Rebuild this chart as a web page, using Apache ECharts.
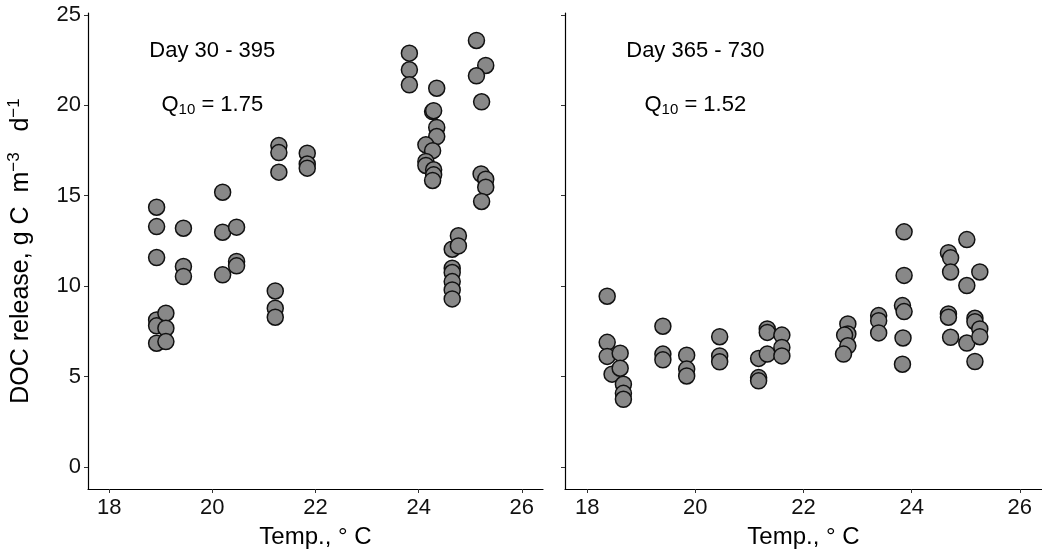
<!DOCTYPE html>
<html>
<head>
<meta charset="utf-8">
<title>DOC release vs temperature</title>
<script src="https://cdn.jsdelivr.net/npm/echarts@6/dist/echarts.min.js"></script>
<style>
  html, body { margin: 0; padding: 0; background: #fff; }
  #chart { width: 1042px; height: 556px; }
</style>
</head>
<body>
<div id="chart"></div>
<script>
// tick labels
var xTicks = [18, 20, 22, 24, 26];
var yTicks = [0, 5, 10, 15, 20, 25];

// Day 30 - 395  [temp, DOC release]
var early = [
  [18.92, 14.36], [18.92, 13.29], [18.92, 11.58], [18.92, 8.13], [18.92, 7.80], [18.92, 6.84],
  [19.10, 8.50], [19.10, 7.67], [19.10, 6.93],
  [19.44, 13.20], [19.44, 11.08], [19.44, 10.53],
  [20.20, 15.19], [20.20, 12.98], [20.20, 10.62],
  [20.47, 13.26], [20.47, 11.36], [20.47, 11.12],
  [21.22, 9.73], [21.22, 8.78], [21.22, 8.28],
  [21.29, 17.77], [21.29, 17.38], [21.29, 16.30],
  [21.84, 17.35], [21.84, 16.75], [21.84, 16.52],
  [23.82, 22.88], [23.82, 21.96], [23.82, 21.13],
  [24.35, 20.94], [24.27, 19.65], [24.29, 19.70], [24.35, 18.77], [24.35, 18.27],
  [24.14, 17.81], [24.27, 17.49], [24.14, 16.89], [24.14, 16.67],
  [24.29, 16.43], [24.29, 16.15], [24.27, 15.84],
  [24.65, 12.04], [24.77, 12.78], [24.77, 12.22],
  [24.65, 10.99], [24.65, 10.75], [24.65, 10.25], [24.65, 9.79], [24.65, 9.29],
  [25.12, 23.58], [25.30, 22.20], [25.12, 21.63], [25.22, 20.19],
  [25.21, 16.20], [25.30, 15.91], [25.30, 15.47], [25.22, 14.68]
];

// Day 365 - 730
var late = [
  [18.37, 9.44], [18.37, 6.89], [18.37, 6.11], [18.46, 5.13],
  [18.61, 6.29], [18.61, 5.46], [18.67, 4.57], [18.67, 4.07], [18.67, 3.74],
  [19.40, 7.78], [19.40, 6.24], [19.40, 5.92],
  [19.84, 6.18], [19.84, 5.41], [19.84, 5.03],
  [20.45, 7.20], [20.45, 6.14], [20.45, 5.81],
  [21.17, 6.00], [21.17, 4.94], [21.17, 4.76],
  [21.33, 7.63], [21.33, 7.44], [21.33, 6.24],
  [21.60, 7.29], [21.60, 6.61], [21.60, 6.14],
  [22.82, 7.91], [22.82, 7.35], [22.76, 7.29], [22.82, 6.70], [22.74, 6.24],
  [23.39, 8.37], [23.39, 8.09], [23.39, 7.41],
  [23.86, 13.00], [23.86, 10.59], [23.83, 8.92], [23.86, 8.59], [23.84, 7.13], [23.83, 5.68],
  [24.68, 11.85], [24.72, 11.56], [24.72, 10.78], [24.68, 8.46], [24.68, 8.28], [24.72, 7.17],
  [25.02, 12.57], [25.26, 10.78], [25.02, 10.03], [25.02, 6.85],
  [25.17, 8.22], [25.17, 8.03], [25.26, 7.63], [25.26, 7.20], [25.17, 5.83]
];

// panel annotations
var periods = ['Day 30 - 395', 'Day 365 - 730'];
var q10 = ['1.75', '1.52'];
var labelPos = [[20, 23], [20, 20]];

var font = 'Liberation Sans, Arial, sans-serif';
var chart = echarts.init(document.getElementById('chart'));

function xAxis(i) {
  return {
    type: 'value', gridIndex: i, min: 17.59, max: 26.41,
    name: 'Temp., \u00b0 C', nameLocation: 'middle', nameGap: 36,
    nameTextStyle: { fontSize: 24, color: '#000', fontFamily: font },
    axisLine: { onZero: false, lineStyle: { color: '#000', width: 1.2 } },
    axisTick: { length: 4, customValues: xTicks, lineStyle: { color: '#333' } },
    axisLabel: { customValues: xTicks, fontSize: 22, color: '#111', margin: 8, fontFamily: font },
    splitLine: { show: false }
  };
}

function yAxis(i) {
  var ax = {
    type: 'value', gridIndex: i, min: -1.22, max: 25.1,
    axisLine: { show: true, onZero: false, lineStyle: { color: '#000', width: 1.2 } },
    axisTick: { show: true, length: 4, customValues: yTicks, lineStyle: { color: '#333' } },
    axisLabel: { show: i === 0, customValues: yTicks, fontSize: 22, color: '#111', margin: 7, fontFamily: font },
    splitLine: { show: false }
  };
  if (i === 0) {
    ax.name = '{t|DOC release, g C  m}{sup|\u22123}{t|   d}{sup|\u22121}';
    ax.nameLocation = 'middle';
    ax.nameGap = 52;
    ax.nameTextStyle = {
      fontFamily: font, color: '#000',
      rich: {
        t: { fontSize: 25, lineHeight: 30, fontFamily: font, color: '#000' },
        sup: { fontSize: 17, lineHeight: 14, verticalAlign: 'top', fontFamily: font, color: '#000' }
      }
    };
  }
  return ax;
}

function pointSeries(data, i) {
  return {
    type: 'scatter', xAxisIndex: i, yAxisIndex: i, data: data,
    symbol: 'circle', symbolSize: 16,
    itemStyle: { color: '#888888', borderColor: '#111', borderWidth: 1.5, opacity: 1 },
    emphasis: { disabled: true }
  };
}

function textSeries(i) {
  return {
    type: 'scatter', xAxisIndex: i, yAxisIndex: i, silent: true, z: 5,
    symbolSize: 1, itemStyle: { color: '#fff', opacity: 0 },
    data: [
      { value: labelPos[0], label: { formatter: '{a|' + periods[i] + '}' } },
      { value: labelPos[1], label: { formatter: '{a|Q}{s|10}{a| = ' + q10[i] + '}' } }
    ],
    label: {
      show: true, position: 'top', distance: -13, color: '#000', opacity: 1,
      textBorderWidth: 0, fontFamily: font,
      rich: {
        a: { fontSize: 22, lineHeight: 26, fontFamily: font, color: '#000' },
        s: { fontSize: 15, lineHeight: 12, verticalAlign: 'bottom', fontFamily: font, color: '#000' }
      }
    }
  };
}

chart.setOption({
  backgroundColor: '#fff',
  animation: false,
  grid: [
    { left: 88, top: 13, width: 455, bottom: 67, containLabel: false },
    { left: 565, top: 13, width: 477, bottom: 67, containLabel: false }
  ],
  xAxis: [xAxis(0), xAxis(1)],
  yAxis: [yAxis(0), yAxis(1)],
  series: [pointSeries(early, 0), pointSeries(late, 1), textSeries(0), textSeries(1)]
});
</script>
</body>
</html>
